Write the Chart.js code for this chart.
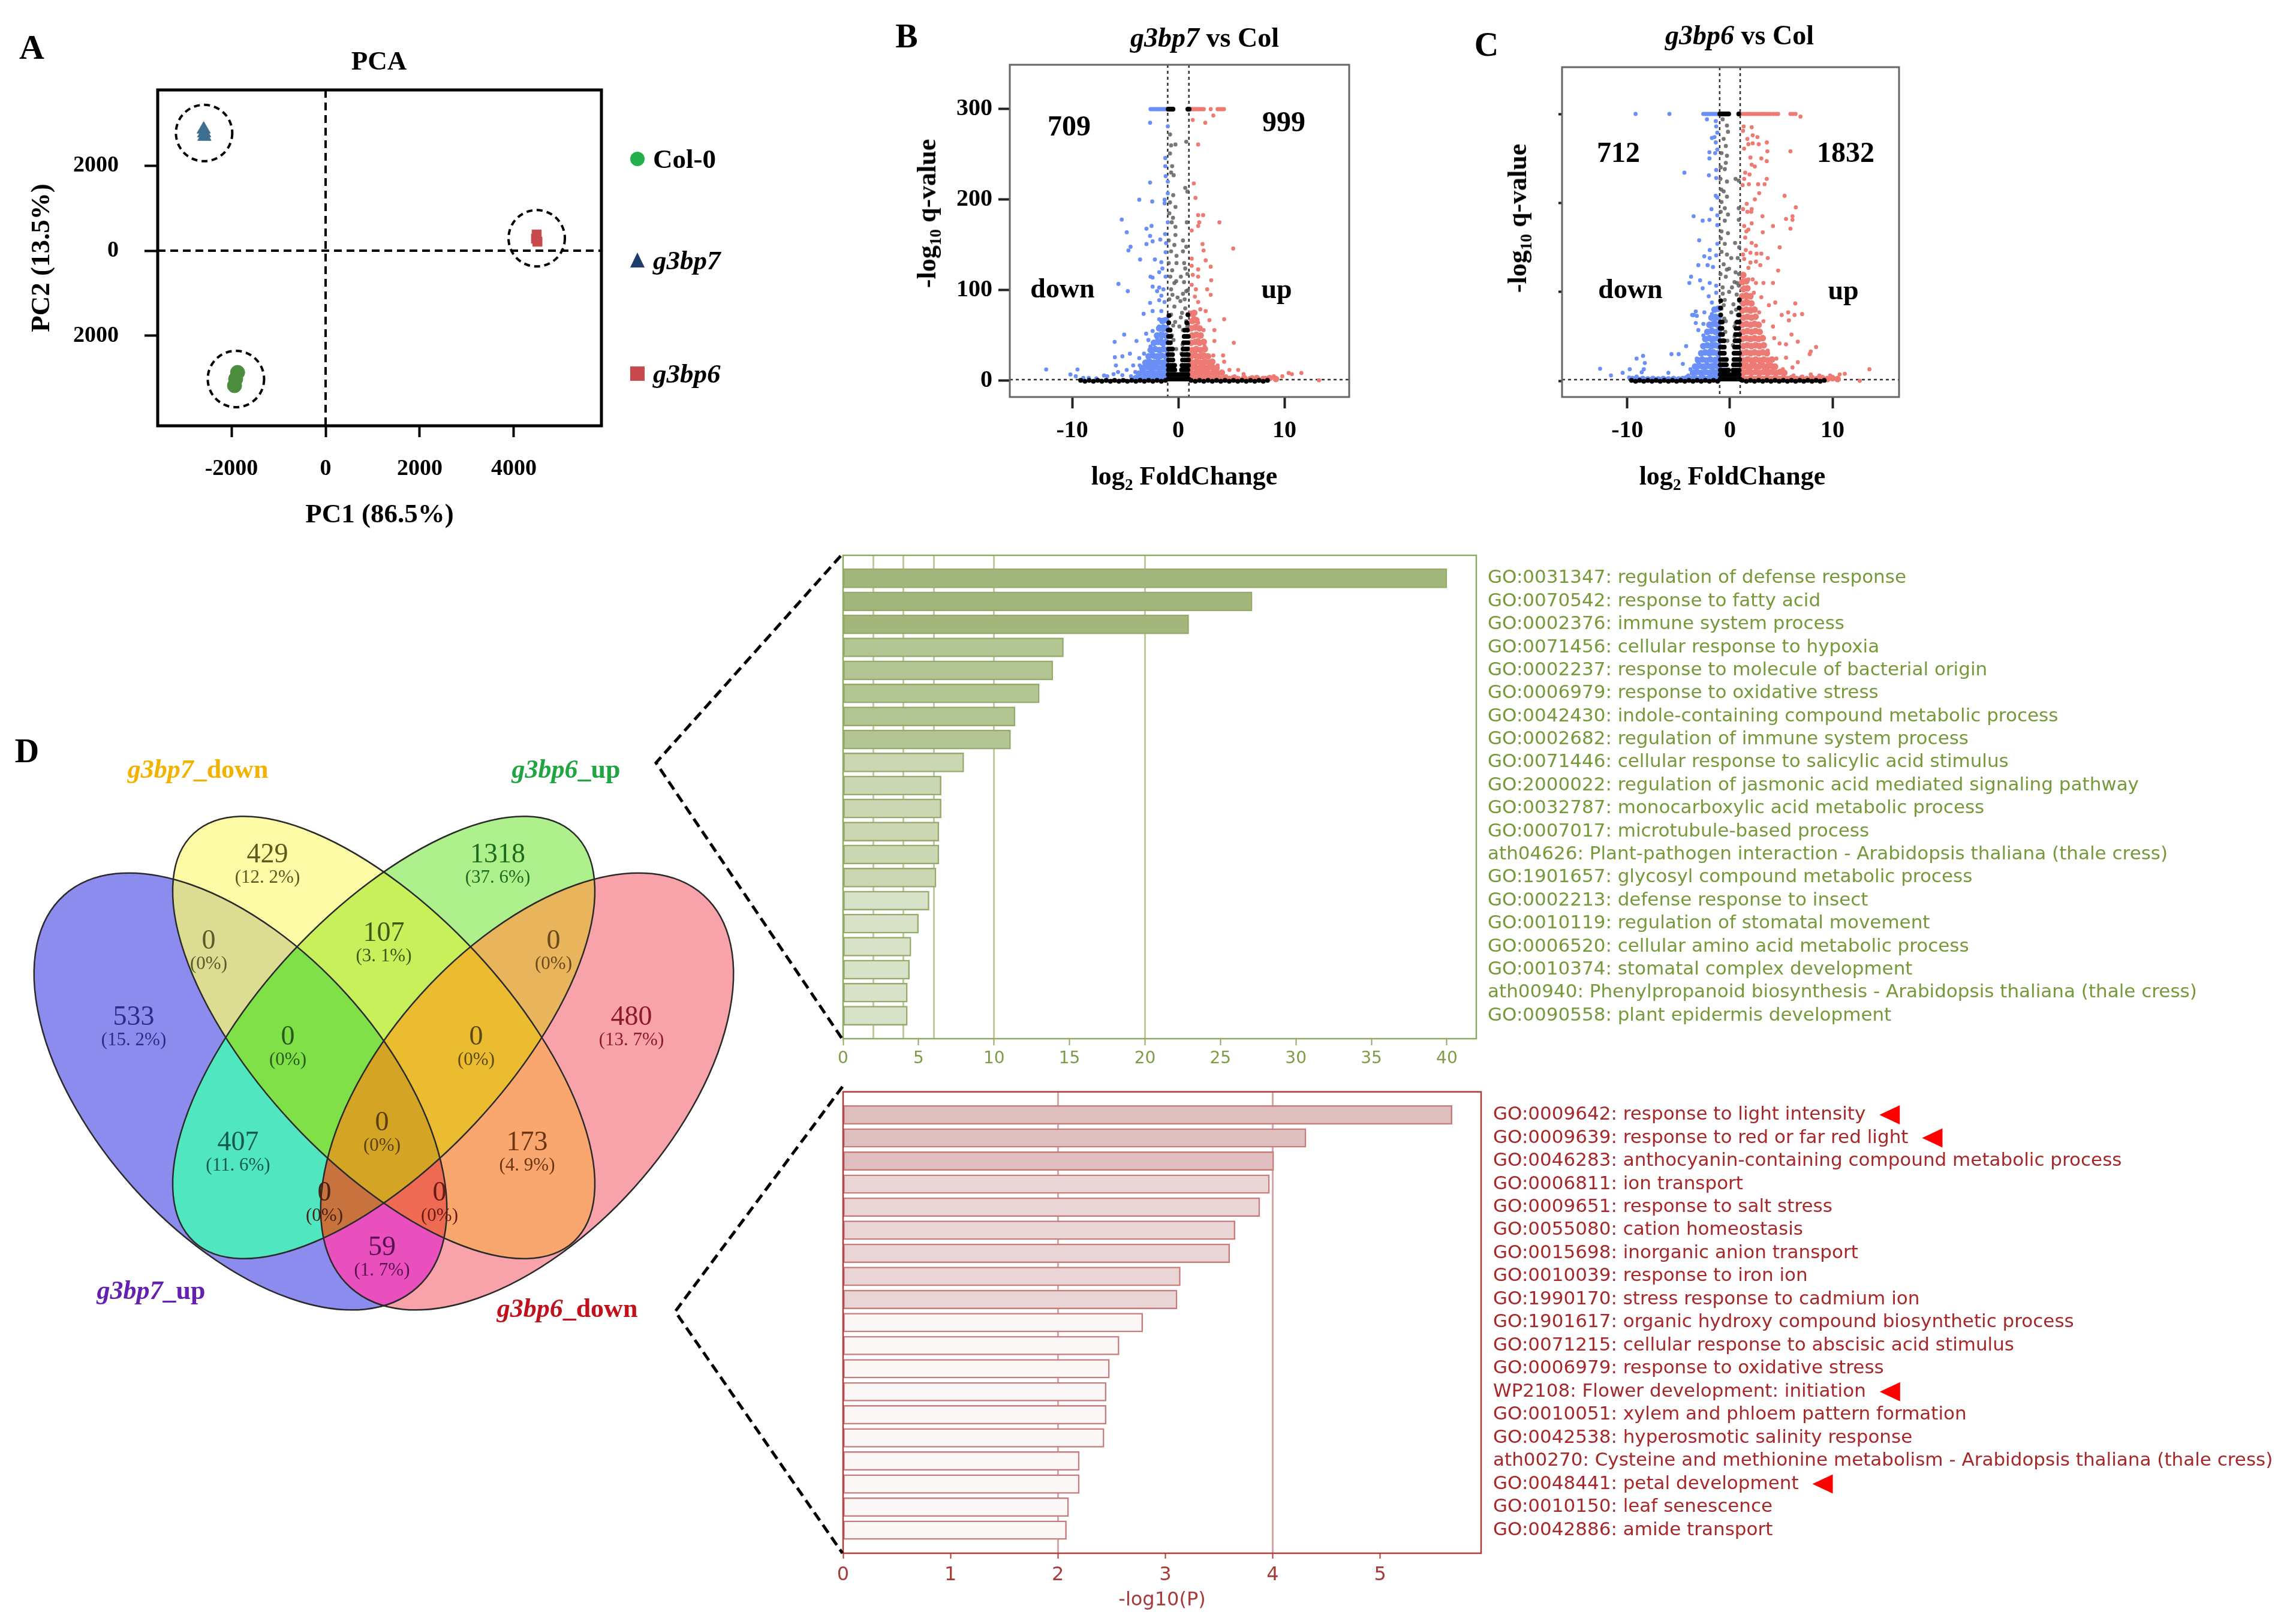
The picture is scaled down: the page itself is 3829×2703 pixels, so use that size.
<!DOCTYPE html>
<html>
<head>
<meta charset="utf-8">
<script src="https://cdn.jsdelivr.net/npm/chart.js@4.4.0/dist/chart.umd.min.js"></script>
<style>
  html, body { margin: 0; padding: 0; background: #fff; }
  #page { position: relative; width: 3829px; height: 2703px; overflow: hidden; background: #fff; }
  canvas { position: absolute; }
  .lab { position: absolute; white-space: nowrap; transform: translate(-50%, -50%); line-height: 1;
         font-family: "Liberation Serif", "Times New Roman", serif; font-weight: bold; color: #000; }
  .left { transform: translate(0, -50%); }
  .rot { transform: translate(-50%, -50%) rotate(-90deg); }
  .sub { font-size: 0.62em; vertical-align: -0.32em; }
  .mk { position: absolute; }
  svg { position: absolute; left: 0; top: 0; }
</style>
</head>
<body>
<div id="page">
  <!-- panel letters and titles -->
  <div class="lab" style="left:53px;top:79px;font-size:58px">A</div>
  <div class="lab" style="left:1512px;top:60px;font-size:56px">B</div>
  <div class="lab" style="left:2479px;top:74px;font-size:56px">C</div>
  <div class="lab" style="left:45px;top:1252px;font-size:56px">D</div>
  <div class="lab" style="left:632px;top:101px;font-size:45px">PCA</div>

  <!-- PCA legend -->
  <div class="mk" style="left:1051px;top:253px;width:24px;height:24px;border-radius:50%;background:#22b04a"></div>
  <div class="mk" style="left:1051px;top:421px;width:0;height:0;border-left:12px solid transparent;border-right:12px solid transparent;border-bottom:25px solid #1e3d6b"></div>
  <div class="mk" style="left:1051px;top:611px;width:24px;height:24px;background:#c94a4c"></div>
  <div class="lab left" style="left:1089px;top:265px;font-size:45px">Col-0</div>
  <div class="lab left" style="left:1089px;top:434px;font-size:45px"><i>g3bp7</i></div>
  <div class="lab left" style="left:1089px;top:623px;font-size:45px"><i>g3bp6</i></div>

  <!-- volcano titles -->
  <div class="lab" style="left:2009px;top:63px;font-size:46px"><i>g3bp7</i> vs Col</div>
  <div class="lab" style="left:2901px;top:59px;font-size:46px"><i>g3bp6</i> vs Col</div>
  <div class="lab rot" style="left:1549px;top:356px;font-size:44px">-log<span class="sub">10</span> q-value</div>
  <div class="lab rot" style="left:2534px;top:364px;font-size:44px">-log<span class="sub">10</span> q-value</div>
  <div class="lab" style="left:1975px;top:797px;font-size:44px">log<span class="sub">2</span> FoldChange</div>
  <div class="lab" style="left:2889px;top:797px;font-size:44px">log<span class="sub">2</span> FoldChange</div>
  <div class="lab" style="left:1783px;top:210px;font-size:48px">709</div>
  <div class="lab" style="left:2141px;top:203px;font-size:48px">999</div>
  <div class="lab" style="left:1772px;top:481px;font-size:46px">down</div>
  <div class="lab" style="left:2129px;top:482px;font-size:46px">up</div>
  <div class="lab" style="left:2699px;top:254px;font-size:48px">712</div>
  <div class="lab" style="left:3078px;top:254px;font-size:48px">1832</div>
  <div class="lab" style="left:2719px;top:482px;font-size:46px">down</div>
  <div class="lab" style="left:3074px;top:484px;font-size:46px">up</div>

  <!-- venn set names -->
  <div class="lab" style="left:330px;top:1283px;font-size:44px;color:#f2b300"><i>g3bp7</i>_down</div>
  <div class="lab" style="left:944px;top:1283px;font-size:44px;color:#1fa640"><i>g3bp6</i>_up</div>
  <div class="lab" style="left:252px;top:2152px;font-size:44px;color:#6420b0"><i>g3bp7</i>_up</div>
  <div class="lab" style="left:946px;top:2182px;font-size:44px;color:#c0121c"><i>g3bp6</i>_down</div>
</div>

<script>
// ---------------- data ----------------
// PCA (PC1, PC2) per replicate
const pcaGroups = ['Col-0', 'g3bp7', 'g3bp6'];
const col0PC = [[-1870, -2860], [-1911, -3014], [-1935, -3170]];
const g3bp7PC = [[-2590, 2850], [-2580, 2760], [-2575, 2680]];
const g3bp6PC = [[4484, 380], [4470, 282], [4500, 211]];
const pcaXTicks = [-2000, 0, 2000, 4000];
const pcaYTicks = [-2000, 0, 2000];
const pcaYTickLabels = ['2000', '0', '2000'];

// volcano g3bp7 vs Col  [log2FC, -log10 q]
const volcB_down = [[-2.62,300],[-2.5,300],[-2.38,300],[-2.26,300],[-2.14,300],[-2.02,300],[-1.9,300],[-1.78,300],[-1.66,300],[-1.54,300],[-1.42,300],[-1.3,300],[-1.18,300],[-1.08,300],
  [-2.66,285],[-0.99,281],[-1.23,246],[-1.23,237],[-1.19,226],[-2.66,219],[-0.99,220],[-0.99,207],[-3.68,200],[-2.46,198],[-1.29,200],[-1.29,196],[-5.33,178],[-4.86,164],[-3.0,168],[-2.52,171],[-0.99,175],[-1.25,162],[-4.5,148],[-4.7,144],[-2.66,160],[-2.42,154],[-1.7,156],[-3.0,151],[-1.15,152],[-3.6,134],[-1.2,142],[-2.21,134],[-1.6,131],[-1.5,124],[-1.8,120],[-2.62,115],[-2.42,114],[-1.2,115],[-5.64,107],[-4.76,99],[-2.42,104],[-1.8,103],[-1.4,101],[-2.0,99],[-1.6,94],[-2.66,86],[-1.8,89],[-1.3,87],[-3.27,74],[-2.42,77],[-1.6,77],[-1.8,68],[-1.3,68],[-5.1,51],[-6.0,43],[-3.94,44],[-3.03,52],[-2.42,55],[-1.8,60],[-2.82,45],[-2.0,47],[-1.6,47],[-5.27,27],[-4.56,30],[-5.98,26],[-5.88,17],[-3.68,25],[-3.23,30],[-2.82,24],[-2.42,33],[-1.8,35],[-1.4,40],[-1.19,28],[-4.25,17],[-3.64,17],[-2.62,17],[-2.0,19],[-1.4,17],[-1.19,12],[-4.86,12],[-3.23,11],[-1.6,8],[-12.45,12.5],[-9.5,12.5],[-10.17,7],[-9.66,5],[-8.95,3.2],[-8.44,3.2],[-7.72,2.7],[-7.0,5.8],[-6.1,7.4],[-5.27,6.2],[-4.46,5],[-3.64,5],[-2.82,5],[-2.0,5],[-1.4,4],[-2.62,38],[-2.21,26],[-1.6,21],[-1.19,19],[-3.0,19],[-1.4,56],[-1.19,49],[-1.7,26],[-2.42,12],[-4.05,9.7],[-5.68,9.7],[-6.7,5]];
const volcB_up = [[1.2,300],[1.32,300],[1.44,300],[1.56,300],[1.68,300],[1.8,300],[1.92,300],[2.04,300],[2.16,300],[2.28,300],[2.4,300],[3.05,300],[3.7,300],[3.85,300],[4.0,300],[4.15,300],[4.3,300],
  [3.3,293],[1.36,288],[2.54,285],[1.87,261],[1.46,218],[1.62,202],[1.87,183],[2.34,183],[1.97,175],[3.87,175],[1.87,171],[1.26,166],[2.28,151],[2.38,144],[5.17,146],[1.26,135],[2.58,133],[1.26,127],[1.87,123],[3.05,126],[1.36,117],[1.87,115],[3.1,111],[1.26,106],[1.66,101],[2.72,101],[3.05,95],[1.56,93],[1.87,87],[2.07,79],[2.58,77],[4.32,68],[2.93,67],[1.46,70],[1.87,64],[2.38,56],[3.4,56],[5.23,42],[3.4,44],[4.22,28],[4.32,21],[3.3,28],[2.48,38],[1.87,45],[1.46,49],[1.66,33],[2.28,26],[2.89,21],[3.7,17],[4.82,12],[5.64,12],[6.15,7.4],[6.97,4],[8.2,3.3],[9.0,5],[9.8,5],[10.4,8.6],[10.7,7.4],[11.6,8.6],[13.25,0.5],[1.46,17],[2.07,12],[2.48,7.4],[3.3,7.4],[4.1,8.6],[4.5,5],[5.3,5],[1.46,7.4],[1.66,61],[2.17,51]];
const volcB_ns = [[-0.78,272],[-0.68,260],[-0.27,261],[-0.78,251],[-0.58,237],[-0.68,230],[-0.44,227],[0.75,264],[0.65,213],[0.85,209],[-0.48,205],[-0.78,197],[-0.27,192],[-0.62,175],[-0.27,170],[-0.27,161],[0.44,155],[-0.37,150],[0.75,148],[-0.68,143],[-0.17,138],[0.44,143],[-0.17,130],[-0.58,122],[0.65,124],[0.24,115],[-0.37,108],[0.54,109],[-0.68,101],[0.75,99],[-0.07,92],[0.44,96],[-0.37,82],[0.65,80],[-0.68,73],[0.24,70],[0.75,66],[-0.48,61],[0.44,56],[-0.85,185],[-0.5,180],[0.8,175],[-0.9,130],[0.85,118],[-0.85,90],[0.2,88],[0.85,60],[-0.3,65],[0.1,60],
  [-0.55,95],[-0.2,110],[0.55,130],[-0.75,115],[0.35,75],[-0.45,45],[0.4,40],[-0.2,35],[0.3,30],[-0.6,50],[0.6,90],[-0.9,155],[0.9,100]];
const volcB_core = [[-0.95,300],[-0.82,300],[-0.7,300],[-0.58,300],[-0.5,300],[0.9,300],[1.02,300],
  [-0.95,2],[-0.75,2],[-0.55,2],[-0.35,2],[-0.15,2],[0.05,2],[0.25,2],[0.45,2],[0.65,2],[0.85,2],[0.98,2],
  [-0.95,7],[-0.75,7],[-0.55,7],[-0.35,7],[-0.15,7],[0.1,7],[0.3,7],[0.5,7],[0.7,7],[0.9,7],
  [-0.93,12],[-0.73,12],[-0.53,12],[-0.33,12],[0.3,12],[0.5,12],[0.7,12],[0.9,12],
  [-0.95,17],[-0.75,17],[-0.55,17],[-0.35,17],[0.35,17],[0.55,17],[0.75,17],[0.95,17],
  [-0.92,23],[-0.72,23],[-0.52,23],[0.4,23],[0.6,23],[0.8,23],[0.95,23],
  [-0.95,29],[-0.75,29],[-0.55,29],[0.4,29],[0.6,29],[0.8,29],[0.93,29],
  [-0.92,35],[-0.72,35],[-0.55,35],[0.45,35],[0.65,35],[0.85,35],
  [-0.95,42],[-0.75,42],[0.5,42],[0.7,42],[0.9,42],
  [-0.92,49],[-0.72,49],[0.55,49],[0.75,49],[0.93,49],
  [-0.95,56],[-0.78,56],[0.6,56],[0.85,56],[-0.9,64],[0.8,64],[-0.88,72],[0.9,73],
  [-9.2,0.5],[-8.8,-0.5],[-8.4,0.5],[-8.0,-0.5],[-7.6,0.5],[-7.2,-0.5],[-6.8,0.5],[-6.4,-0.5],[-6.0,0.5],[-5.6,-0.5],[-5.2,0.5],[-4.8,-0.5],[-4.4,0.5],[-4.0,-0.5],[-3.6,0.5],[-3.2,-0.5],[-2.8,0.5],[-2.4,-0.5],[-2.0,0.5],[-1.6,-0.5],[-1.2,0.5],
  [1.2,0.5],[1.6,-0.5],[2.0,0.5],[2.4,-0.5],[2.8,0.5],[3.2,-0.5],[3.6,0.5],[4.0,-0.5],[4.4,0.5],[4.8,-0.5],[5.2,0.5],[5.6,-0.5],[6.0,0.5],[6.4,-0.5],[6.8,0.5],[7.2,-0.5],[7.6,0.5],[8.0,-0.5],[8.4,0.5]];
const volcB_downDense = [[-4.0,3],[-3.6,2],[-3.2,3],[-2.8,2],[-2.4,3],[-2.0,2],[-1.6,3],[-1.2,2],
  [-3.7,8],[-3.3,9],[-2.9,8],[-2.5,9],[-2.1,8],[-1.7,9],[-1.3,8],
  [-3.4,14],[-3.0,15],[-2.6,14],[-2.2,15],[-1.8,14],[-1.4,15],[-1.1,14],
  [-3.1,20],[-2.7,21],[-2.3,20],[-1.9,21],[-1.5,20],[-1.15,21],
  [-2.8,27],[-2.4,28],[-2.0,27],[-1.6,28],[-1.2,27],
  [-2.6,34],[-2.2,35],[-1.8,34],[-1.4,35],[-1.1,34],
  [-2.3,42],[-1.9,43],[-1.5,42],[-1.15,43],
  [-2.0,50],[-1.6,51],[-1.2,50],[-1.8,58],[-1.4,59],[-1.1,58],[-1.5,66],[-1.15,67]];
const volcB_upDense = [[1.2,3],[1.6,2],[2.0,3],[2.4,2],[2.8,3],[3.2,2],[3.6,3],[4.0,2],[4.4,3],[4.8,2],[5.2,3],[5.6,2],[6.2,3],[6.8,2],[7.4,3],[8.0,2],[8.6,3],[9.2,2],
  [1.3,8],[1.7,9],[2.1,8],[2.5,9],[2.9,8],[3.3,9],[3.7,8],[4.1,9],
  [1.2,14],[1.6,15],[2.0,14],[2.4,15],[2.8,14],[3.2,15],[3.6,14],
  [1.3,20],[1.7,21],[2.1,20],[2.5,21],[2.9,20],[3.2,21],
  [1.2,27],[1.6,28],[2.0,27],[2.4,28],[2.8,27],
  [1.3,34],[1.7,35],[2.1,34],[2.5,35],
  [1.2,42],[1.6,43],[2.0,42],[2.4,43],
  [1.3,50],[1.7,51],[2.1,50],[1.2,58],[1.6,59],[2.0,58],[1.3,66],[1.7,67],[1.2,74],[1.5,75]];

// volcano g3bp6 vs Col
const volcC_down = [[-9.2,300],[-5.9,300],[-2.6,300],[-2.45,300],[-2.3,300],[-2.15,300],[-2.0,300],[-1.85,300],[-1.7,300],[-1.55,300],[-1.4,300],[-1.25,300],[-1.12,300],
  [-2.24,294],[-1.38,292],[-1.34,286],[-1.23,279],[-1.76,273],[-1.5,274],[-1.38,268],[-1.23,260],[-2.0,257],[-2.0,250],[-1.44,256],[-4.44,234],[-2.05,231],[-1.34,237],[-1.34,228],[-1.38,208],[-1.23,206],[-1.8,193],[-3.54,185],[-2.66,180],[-2.0,181],[-1.23,186],[-1.23,175],[-3.0,158],[-1.23,154],[-1.97,147],[-2.5,140],[-1.97,138],[-1.34,141],[-3.08,130],[-2.18,130],[-1.65,128],[-3.79,117],[-3.96,110],[-2.91,113],[-1.97,110],[-1.34,107],[-2.66,104],[-1.34,99],[-2.07,95],[-1.76,88],[-3.33,78],[-3.54,74],[-3.23,73],[-3.68,74],[-2.49,77],[-1.76,75],[-3.33,65],[-2.59,64],[-1.44,67],[-3.08,57],[-2.59,51],[-1.76,58],[-4.27,39],[-2.49,39],[-1.76,44],[-5.7,30],[-5.0,30],[-4.59,19],[-3.23,25],[-2.81,30],[-1.97,34],[-1.34,39],[-8.47,28],[-9.1,25],[-8.3,20],[-8.4,13],[-8.6,9.6],[-9.77,13],[-10.46,9],[-11.6,6],[-12.66,13.6],[-6.0,9],[-9.83,3.7],[-9.1,4.8],[-8.05,2.5],[-7.2,1.8],[-4.9,2.5],[-4.06,6],[-3.85,13],[-3.23,10.7],[-2.6,15.4],[-2.18,8.4],[-1.76,17.8],[-1.34,10.7],[-1.44,24.8],[-2.8,6],[-1.55,4.8]];
const volcC_up = [[1.2,300],[1.4,300],[1.6,300],[1.8,300],[2.0,300],[2.2,300],[2.4,300],[2.6,300],[2.8,300],[3.0,300],[3.2,300],[3.4,300],[3.6,300],[3.8,300],[4.0,300],[4.25,300],[4.5,300],[4.7,300],[5.9,300],[6.15,300],[6.4,300],
  [6.88,297],[1.34,286],[1.28,281],[2.12,285],[2.22,276],[2.68,274],[1.7,272],[3.6,268],[1.8,266],[2.22,267],[2.81,266],[1.38,261],[3.65,258],[5.9,258],[2.0,251],[3.06,250],[3.59,247],[2.12,243],[2.43,241],[1.49,234],[1.91,232],[1.39,227],[3.59,227],[1.24,220],[1.85,221],[2.75,221],[3.38,221],[5.33,208],[2.85,211],[2.43,204],[1.64,199],[2.12,193],[6.42,195],[1.28,193],[1.7,190],[2.08,190],[3.17,185],[5.47,182],[6.1,185],[6.1,181],[4.2,174],[5.9,171],[1.39,174],[1.6,168],[2.12,177],[1.8,170],[3.2,167],[1.49,161],[2.12,155],[2.54,152],[4.85,150],[1.55,147],[2.0,144],[2.6,143],[3.06,143],[3.69,138],[1.28,142],[1.39,137],[2.0,133],[2.54,134],[2.96,130],[4.7,124],[1.8,127],[1.28,117],[1.8,114],[2.22,114],[2.54,110],[3.27,110],[4.2,110],[1.39,105],[2.33,99],[3.06,94],[4.42,88],[6.37,87],[3.8,85],[5.68,77],[5.05,74],[6.3,74],[7.04,75],[1.6,91],[2.0,81],[2.85,77],[3.27,67],[4.2,61],[5.75,68],[6.0,52],[6.62,44],[4.84,42],[5.47,41],[8.4,38],[7.88,33],[7.78,30],[4.32,48],[3.69,34],[5.47,26],[6.62,21],[6.1,15],[4.53,25],[5.16,13],[7.88,7.2],[8.72,6],[9.77,6],[10.7,7.2],[11.2,7.9],[13.6,13],[12.66,0],[6.2,6],[7.05,4.8],[1.39,15],[2.0,10.7],[2.85,8.4],[3.69,13],[4.53,7.2],[1.8,25],[2.43,32],[3.06,20]];
const volcC_ns = [[-0.71,294],[-0.29,287],[-0.19,280],[-0.61,272],[-0.4,264],[-0.82,256],[-0.29,253],[-0.4,245],[-0.5,238],[-0.92,227],[-0.29,224],[0.55,227],[0.86,225],[-0.61,213],[-0.29,207],[-0.82,201],[-0.5,194],[-0.19,187],[0.86,194],[0.86,181],[-0.5,180],[-0.82,168],[-0.19,166],[0.5,155],[-0.5,154],[-0.82,145],[-0.29,142],[0.13,138],[0.76,138],[-0.61,131],[-0.08,126],[0.55,122],[-0.4,117],[0.45,111],[0.86,107],[-0.71,105],[-0.08,100],[0.66,97],[-0.5,91],[0.34,86],[-0.82,81],[0.13,77],[0.76,74],[-0.4,67],[0.45,61],[-0.9,240],[-0.85,215],[-0.9,190],[-0.88,160],[-0.92,120],[0.9,150],[0.88,120],[0.9,90],[-0.6,85],[0.6,80],
  [-0.45,55],[0.45,50],[-0.25,45],[0.3,40],[-0.7,98],[0.7,110],[-0.3,125],[0.2,105],[-0.55,70],[0.55,65]];
const volcC_core = [[-0.98,300],[-0.85,300],[-0.72,300],[-0.59,300],[-0.46,300],[-0.33,300],[-0.2,300],[-0.12,300],[0.86,300],
  [-0.95,2],[-0.75,2],[-0.55,2],[-0.35,2],[-0.15,2],[0.05,2],[0.25,2],[0.45,2],[0.65,2],[0.85,2],[0.98,2],
  [-0.95,7],[-0.75,7],[-0.55,7],[-0.35,7],[-0.15,7],[0.1,7],[0.3,7],[0.5,7],[0.7,7],[0.9,7],
  [-0.93,12],[-0.73,12],[-0.53,12],[-0.33,12],[-0.15,12],[0.3,12],[0.5,12],[0.7,12],[0.9,12],
  [-0.95,18],[-0.75,18],[-0.55,18],[-0.35,18],[0.35,18],[0.55,18],[0.75,18],[0.95,18],
  [-0.92,24],[-0.72,24],[-0.52,24],[-0.35,24],[0.4,24],[0.6,24],[0.8,24],[0.95,24],
  [-0.95,31],[-0.75,31],[-0.55,31],[0.4,31],[0.6,31],[0.8,31],[0.93,31],
  [-0.92,38],[-0.72,38],[-0.55,38],[0.45,38],[0.65,38],[0.85,38],
  [-0.95,45],[-0.75,45],[-0.58,45],[0.5,45],[0.7,45],[0.9,45],
  [-0.92,52],[-0.72,52],[0.55,52],[0.75,52],[0.93,52],
  [-0.95,59],[-0.78,59],[0.6,59],[0.85,59],[-0.92,66],[-0.75,66],[0.7,66],[0.9,66],
  [-0.9,74],[0.88,74],[-0.92,82],[0.9,82],[-0.9,90],[0.92,91],
  [-9.6,0.5],[-9.2,-0.5],[-8.8,0.5],[-8.4,-0.5],[-8.0,0.5],[-7.6,-0.5],[-7.2,0.5],[-6.8,-0.5],[-6.4,0.5],[-6.0,-0.5],[-5.6,0.5],[-5.2,-0.5],[-4.8,0.5],[-4.4,-0.5],[-4.0,0.5],[-3.6,-0.5],[-3.2,0.5],[-2.8,-0.5],[-2.4,0.5],[-2.0,-0.5],[-1.6,0.5],[-1.2,-0.5],
  [1.2,0.5],[1.6,-0.5],[2.0,0.5],[2.4,-0.5],[2.8,0.5],[3.2,-0.5],[3.6,0.5],[4.0,-0.5],[4.4,0.5],[4.8,-0.5],[5.2,0.5],[5.6,-0.5],[6.0,0.5],[6.4,-0.5],[6.8,0.5],[7.2,-0.5],[7.6,0.5],[8.0,-0.5],[8.4,0.5],[8.8,-0.5],[9.2,0.5]];
const volcC_downDense = [[-4.2,3],[-3.8,2],[-3.4,3],[-3.0,2],[-2.6,3],[-2.2,2],[-1.8,3],[-1.4,2],[-1.1,3],
  [-3.6,9],[-3.2,10],[-2.8,9],[-2.4,10],[-2.0,9],[-1.6,10],[-1.2,9],
  [-3.4,16],[-3.0,17],[-2.6,16],[-2.2,17],[-1.8,16],[-1.4,17],[-1.1,16],
  [-3.1,23],[-2.7,24],[-2.3,23],[-1.9,24],[-1.5,23],[-1.15,24],
  [-2.8,31],[-2.4,32],[-2.0,31],[-1.6,32],[-1.2,31],
  [-2.6,39],[-2.2,40],[-1.8,39],[-1.4,40],[-1.1,39],
  [-2.4,47],[-2.0,48],[-1.6,47],[-1.2,48],
  [-2.2,55],[-1.8,56],[-1.4,55],[-1.1,56],
  [-2.0,63],[-1.6,64],[-1.2,63],[-1.8,71],[-1.4,72],[-1.1,71],[-1.5,80],[-1.15,81],
  [-9.5,2],[-9.0,1.5],[-8.5,2],[-8.0,1.5],[-7.5,2],[-7.0,1.5],[-6.5,2],[-6.0,1.5],[-5.5,2],[-5.0,1.5],[-4.6,2]];
const volcC_upDense = [[1.2,3],[1.6,2],[2.0,3],[2.4,2],[2.8,3],[3.2,2],[3.6,3],[4.0,2],[4.4,3],[4.8,2],[5.2,3],[5.6,2],[6.0,3],[6.5,2],[7.0,3],[7.5,2],[8.0,3],[8.5,2],[9.0,3],[9.5,2],[10.0,3],[10.5,2],
  [1.3,9],[1.7,10],[2.1,9],[2.5,10],[2.9,9],[3.3,10],[3.7,9],[4.1,10],[4.5,9],[4.9,10],[5.3,9],
  [1.2,16],[1.6,17],[2.0,16],[2.4,17],[2.8,16],[3.2,17],[3.6,16],[4.0,17],[4.4,16],
  [1.3,23],[1.7,24],[2.1,23],[2.5,24],[2.9,23],[3.3,24],[3.7,23],[4.1,24],
  [1.2,31],[1.6,32],[2.0,31],[2.4,32],[2.8,31],[3.2,32],[3.6,31],
  [1.3,39],[1.7,40],[2.1,39],[2.5,40],[2.9,39],[3.3,40],
  [1.2,47],[1.6,48],[2.0,47],[2.4,48],[2.8,47],[3.2,48],
  [1.3,55],[1.7,56],[2.1,55],[2.5,56],[2.9,55],
  [1.2,63],[1.6,64],[2.0,63],[2.4,64],[2.8,63],
  [1.3,71],[1.7,72],[2.1,71],[2.5,72],[1.2,79],[1.6,80],[2.0,79],[2.4,80],
  [1.3,87],[1.7,88],[2.1,87],[1.2,95],[1.6,96],[2.0,95],[1.3,103],[1.7,104],[1.2,111],[1.6,112],[1.3,119]];
const volcXTicks = [-10, 0, 10];
const volcYTicks = [0, 100, 200, 300];
const foldCut = [-1, 1];
const qCut = 1.3;

// GO enrichment, up group (green) and down group (red): -log10(P)
const greenTerms = [
  'GO:0031347: regulation of defense response',
  'GO:0070542: response to fatty acid',
  'GO:0002376: immune system process',
  'GO:0071456: cellular response to hypoxia',
  'GO:0002237: response to molecule of bacterial origin',
  'GO:0006979: response to oxidative stress',
  'GO:0042430: indole-containing compound metabolic process',
  'GO:0002682: regulation of immune system process',
  'GO:0071446: cellular response to salicylic acid stimulus',
  'GO:2000022: regulation of jasmonic acid mediated signaling pathway',
  'GO:0032787: monocarboxylic acid metabolic process',
  'GO:0007017: microtubule-based process',
  'ath04626: Plant-pathogen interaction - Arabidopsis thaliana (thale cress)',
  'GO:1901657: glycosyl compound metabolic process',
  'GO:0002213: defense response to insect',
  'GO:0010119: regulation of stomatal movement',
  'GO:0006520: cellular amino acid metabolic process',
  'GO:0010374: stomatal complex development',
  'ath00940: Phenylpropanoid biosynthesis - Arabidopsis thaliana (thale cress)',
  'GO:0090558: plant epidermis development'
];
const greenValues = [40.0, 27.1, 22.9, 14.6, 13.9, 13.0, 11.4, 11.1, 8.0, 6.5, 6.5, 6.35, 6.35, 6.16, 5.7, 5.0, 4.5, 4.4, 4.26, 4.26];
const greenTier = [0, 0, 0, 1, 1, 1, 1, 1, 2, 2, 2, 2, 2, 2, 3, 3, 3, 3, 3, 3];
const greenTicks = [0, 5, 10, 15, 20, 25, 30, 35, 40];
const greenGrid = [2, 4, 6, 10, 20];

const redTerms = [
  'GO:0009642: response to light intensity',
  'GO:0009639: response to red or far red light',
  'GO:0046283: anthocyanin-containing compound metabolic process',
  'GO:0006811: ion transport',
  'GO:0009651: response to salt stress',
  'GO:0055080: cation homeostasis',
  'GO:0015698: inorganic anion transport',
  'GO:0010039: response to iron ion',
  'GO:1990170: stress response to cadmium ion',
  'GO:1901617: organic hydroxy compound biosynthetic process',
  'GO:0071215: cellular response to abscisic acid stimulus',
  'GO:0006979: response to oxidative stress',
  'WP2108: Flower development: initiation',
  'GO:0010051: xylem and phloem pattern formation',
  'GO:0042538: hyperosmotic salinity response',
  'ath00270: Cysteine and methionine metabolism - Arabidopsis thaliana (thale cress)',
  'GO:0048441: petal development',
  'GO:0010150: leaf senescence',
  'GO:0042886: amide transport'
];
const redValues = [5.67, 4.31, 4.01, 3.97, 3.88, 3.65, 3.60, 3.14, 3.11, 2.79, 2.57, 2.48, 2.45, 2.45, 2.43, 2.20, 2.20, 2.10, 2.08];
const redTier = [0, 0, 0, 1, 1, 1, 1, 1, 1, 2, 2, 2, 2, 2, 2, 2, 2, 2, 2];
const redMarked = [0, 1, 12, 16];
const redTicks = [0, 1, 2, 3, 4, 5];
const redGrid = [2, 4];

// Venn: region membership (B = g3bp7_up, Y = g3bp7_down, G = g3bp6_up, P = g3bp6_down)
const vennKeys = ['B', 'Y', 'G', 'P'];
const vennRegions = ['B', 'Y', 'G', 'P', 'BY', 'YG', 'GP', 'BYG', 'YGP', 'BYGP', 'BG', 'YP', 'BGP', 'BYP', 'BP'];
const vennCounts = [533, 429, 1318, 480, 0, 107, 0, 0, 0, 0, 407, 173, 0, 0, 59];

// ---------------- layout / style ----------------
const SERIF = '"Liberation Serif", "Times New Roman", serif';
const SANS = '"DejaVu Sans", "Noto Sans", sans-serif';
Chart.defaults.font.family = SERIF;
Chart.defaults.animation = false;
Chart.defaults.plugins.legend.display = false;
Chart.defaults.plugins.tooltip.enabled = false;

const page = document.getElementById('page');
function makeCanvas(left, top, w, h) {
  const c = document.createElement('canvas');
  c.width = w; c.height = h;
  c.style.left = left + 'px'; c.style.top = top + 'px';
  c.style.width = w + 'px'; c.style.height = h + 'px';
  page.insertBefore(c, page.firstChild);
  return c;
}
const toXY = arr => arr.map(p => ({ x: p[0], y: p[1] }));
const fixedTicks = vals => axis => { axis.ticks = vals.map(v => ({ value: v })); };

// ---------- A: PCA ----------
const pcaDecor = {
  id: 'pcaDecor',
  beforeDatasetsDraw(chart) {
    const { ctx, chartArea: a, scales: { x, y } } = chart;
    ctx.save();
    ctx.strokeStyle = '#000';
    ctx.lineWidth = 4;
    ctx.setLineDash([13, 8]);
    const x0 = x.getPixelForValue(0), y0 = y.getPixelForValue(0);
    ctx.beginPath();
    ctx.moveTo(x0, a.top); ctx.lineTo(x0, a.bottom);
    ctx.moveTo(a.left, y0); ctx.lineTo(a.right, y0);
    ctx.stroke();
    ctx.setLineDash([10, 7]);
    chart.data.datasets.forEach((ds, i) => {
      const pts = chart.getDatasetMeta(i).data;
      const cx = pts.reduce((s, p) => s + p.x, 0) / pts.length;
      const cy = pts.reduce((s, p) => s + p.y, 0) / pts.length;
      ctx.beginPath();
      ctx.arc(cx, cy, 47, 0, Math.PI * 2);
      ctx.stroke();
    });
    ctx.restore();
  },
  afterDraw(chart) {
    const { ctx, chartArea: a } = chart;
    ctx.save();
    ctx.strokeStyle = '#000';
    ctx.lineWidth = 5;
    ctx.strokeRect(a.left, a.top, a.right - a.left, a.bottom - a.top);
    ctx.restore();
  }
};

new Chart(makeCanvas(0, 0, 1300, 900), {
  type: 'scatter',
  data: {
    datasets: [
      { label: pcaGroups[0], data: toXY(col0PC), pointStyle: 'circle', pointRadius: 12, backgroundColor: '#4d8d40', borderColor: '#4d8d40' },
      { label: pcaGroups[1], data: toXY(g3bp7PC), pointStyle: 'triangle', pointRadius: 13, backgroundColor: '#3f6f90', borderColor: '#3f6f90' },
      { label: pcaGroups[2], data: toXY(g3bp6PC), pointStyle: 'rect', pointRadius: 11, backgroundColor: '#c64a4c', borderColor: '#c64a4c' }
    ]
  },
  options: {
    responsive: false, devicePixelRatio: 1,
    layout: { padding: { left: 0, top: 150, right: 297, bottom: 0 } },
    scales: {
      x: {
        type: 'linear', min: -3567, max: 5860,
        afterBuildTicks: fixedTicks(pcaXTicks),
        afterFit: s => { s.height = 190; },
        ticks: { font: { size: 38, weight: 'bold' }, color: '#000', padding: 30, maxRotation: 0, autoSkip: false,
                 callback: v => String(v) },
        grid: { drawOnChartArea: false, drawTicks: true, tickLength: 19, tickWidth: 4, tickColor: '#000' },
        border: { display: false },
        title: { display: true, text: 'PC1 (86.5%)', color: '#000', font: { size: 45, weight: 'bold' }, padding: { top: 0, bottom: 14 } }
      },
      y: {
        type: 'linear', min: -4113, max: 3775,
        afterBuildTicks: fixedTicks(pcaYTicks),
        afterFit: s => { s.width = 263; },
        ticks: { font: { size: 38, weight: 'bold' }, color: '#000', padding: 43, autoSkip: false,
                 callback: v => pcaYTickLabels[pcaYTicks.indexOf(v)] },
        grid: { drawOnChartArea: false, drawTicks: true, tickLength: 22, tickWidth: 4, tickColor: '#000' },
        border: { display: false },
        title: { display: true, text: 'PC2 (13.5%)', color: '#000', font: { size: 45, weight: 'bold' }, padding: { top: 43, bottom: 0 } }
      }
    }
  },
  plugins: [pcaDecor]
});

// ---------- B, C: volcano ----------
function volcanoDecor(id) {
  return {
    id,
    beforeDatasetsDraw(chart) {
      const { ctx, chartArea: a, scales: { x, y } } = chart;
      ctx.save();
      ctx.strokeStyle = '#333';
      ctx.lineWidth = 2.5;
      ctx.setLineDash([5, 5]);
      ctx.beginPath();
      foldCut.forEach(v => {
        const px = x.getPixelForValue(v);
        ctx.moveTo(px, a.top); ctx.lineTo(px, a.bottom);
      });
      const py = y.getPixelForValue(qCut);
      ctx.moveTo(a.left, py); ctx.lineTo(a.right, py);
      ctx.stroke();
      ctx.restore();
    },
    afterDraw(chart) {
      const { ctx, chartArea: a } = chart;
      ctx.save();
      ctx.strokeStyle = '#666';
      ctx.lineWidth = 3;
      ctx.strokeRect(a.left, a.top, a.right - a.left, a.bottom - a.top);
      ctx.restore();
    }
  };
}

function volcanoChart(canvas, sets, box, showYLabels) {
  const blue = '#6a8ff6', red = '#ee7a74';
  new Chart(canvas, {
    type: 'scatter',
    data: {
      datasets: [
        { data: toXY(sets.core), pointRadius: 4, backgroundColor: '#000', borderWidth: 0, order: 0 },
        { data: toXY(sets.ns), pointRadius: 3.4, backgroundColor: 'rgba(95,95,95,0.85)', borderWidth: 0, order: 1 },
        { data: toXY(sets.down), pointRadius: 3.4, backgroundColor: blue, borderWidth: 0, order: 2 },
        { data: toXY(sets.up), pointRadius: 3.4, backgroundColor: red, borderWidth: 0, order: 2 },
        { data: toXY(sets.downDense), pointRadius: 5.5, backgroundColor: blue, borderWidth: 0, order: 3 },
        { data: toXY(sets.upDense), pointRadius: 5.5, backgroundColor: red, borderWidth: 0, order: 3 }
      ]
    },
    options: {
      responsive: false, devicePixelRatio: 1,
      layout: { padding: { left: 0, top: box.top, right: box.right, bottom: 0 } },
      scales: {
        x: {
          type: 'linear', min: box.xmin, max: box.xmax,
          afterBuildTicks: fixedTicks(volcXTicks),
          afterFit: s => { s.height = box.xh; },
          ticks: { font: { size: 40, weight: 'bold' }, color: '#000', padding: 14, maxRotation: 0, autoSkip: false },
          grid: { drawOnChartArea: false, drawTicks: true, tickLength: 19, tickWidth: 4, tickColor: '#222' },
          border: { display: false }
        },
        y: {
          type: 'linear', min: box.ymin, max: box.ymax,
          afterBuildTicks: fixedTicks(volcYTicks),
          afterFit: s => { s.width = box.yw; },
          ticks: { font: { size: 40, weight: 'bold' }, color: '#000', padding: 10, autoSkip: false,
                   callback: v => showYLabels ? String(v) : '' },
          grid: { drawOnChartArea: false, drawTicks: true, tickLength: box.tl, tickWidth: 4, tickColor: '#222' },
          border: { display: false }
        }
      }
    },
    plugins: [volcanoDecor('volc' + box.top)]
  });
}

volcanoChart(makeCanvas(1460, 0, 820, 860),
  { core: volcB_core, ns: volcB_ns, down: volcB_down, up: volcB_up, downDense: volcB_downDense, upDense: volcB_upDense },
  { top: 108, right: 30, xh: 198, yw: 224, tl: 19, xmin: -15.88, xmax: 16.1, ymin: -17.9, ymax: 349 }, true);

volcanoChart(makeCanvas(2430, 0, 780, 860),
  { core: volcC_core, ns: volcC_ns, down: volcC_down, up: volcC_up, downDense: volcC_downDense, upDense: volcC_upDense },
  { top: 112, right: 43, xh: 198, yw: 175, tl: 6, xmin: -16.37, xmax: 16.49, ymin: -18.2, ymax: 352.6 }, false);

// ---------- GO bar charts ----------
function barDecor(id, boxColor, marked, labels, labelFont, labelPad) {
  return {
    id,
    afterDraw(chart) {
      const { ctx, chartArea: a, scales: { y } } = chart;
      ctx.save();
      ctx.strokeStyle = boxColor;
      ctx.lineWidth = 2.5;
      ctx.strokeRect(a.left, a.top, a.right - a.left, a.bottom - a.top);
      if (marked) {
        ctx.font = labelFont;
        ctx.fillStyle = '#ff0000';
        marked.forEach(i => {
          const w = ctx.measureText(labels[i]).width;
          const tip = a.right + labelPad + w + 31;
          const cy = y.getPixelForValue(i);
          ctx.beginPath();
          ctx.moveTo(tip, cy);
          ctx.lineTo(tip + 34, cy - 16);
          ctx.lineTo(tip + 34, cy + 16);
          ctx.closePath();
          ctx.fill();
        });
      }
      ctx.restore();
    }
  };
}

function barChart(canvas, cfg) {
  new Chart(canvas, {
    type: 'bar',
    data: {
      datasets: [{
        data: cfg.values.map((v, i) => ({ x: v, y: i })),
        backgroundColor: cfg.tier.map(t => cfg.fills[t]),
        borderColor: cfg.border,
        borderWidth: 2.5,
        borderSkipped: false,
        barThickness: cfg.thick
      }]
    },
    options: {
      indexAxis: 'y',
      responsive: false, devicePixelRatio: 1,
      layout: { padding: { left: cfg.padLeft, top: cfg.padTop, right: 0, bottom: 0 } },
      scales: {
        x: {
          type: 'linear', position: 'bottom', min: 0, max: cfg.xmax,
          afterBuildTicks: fixedTicks(cfg.ticks),
          afterFit: s => { s.height = cfg.xh; },
          ticks: { font: { family: SANS, size: cfg.tickSize }, color: cfg.tickColor, padding: cfg.tickPad, maxRotation: 0, autoSkip: false },
          grid: { drawOnChartArea: false, drawTicks: true, tickLength: cfg.tickLen, tickWidth: 2, tickColor: cfg.boxColor },
          border: { display: false },
          title: cfg.title ? { display: true, text: cfg.title, color: cfg.tickColor, font: { family: SANS, size: 32 }, padding: { top: 0, bottom: 15 } } : { display: false }
        },
        xg: {
          type: 'linear', position: 'bottom', min: 0, max: cfg.xmax,
          afterBuildTicks: fixedTicks(cfg.grid),
          afterFit: s => { s.height = 0; },
          ticks: { display: false },
          grid: { drawOnChartArea: true, drawTicks: false, color: cfg.gridColor, lineWidth: 3 },
          border: { display: false }
        },
        y: {
          type: 'linear', position: 'right', min: -1, max: cfg.labels.length, reverse: true, offset: false,
          afterBuildTicks: fixedTicks(cfg.labels.map((t, i) => i)),
          afterFit: s => { s.width = cfg.yw; },
          ticks: { font: { family: SANS, size: 31 }, color: cfg.labelColor, padding: cfg.labelPad, autoSkip: false,
                   crossAlign: 'near', callback: v => cfg.labels[v] },
          grid: { display: false, offset: false },
          border: { display: false }
        }
      }
    },
    plugins: [barDecor('bar' + cfg.padTop, cfg.boxColor, cfg.marked, cfg.labels, '31px ' + SANS, cfg.labelPad)]
  });
}

barChart(makeCanvas(1380, 880, 2449, 920), {
  values: greenValues, tier: greenTier, labels: greenTerms,
  fills: ['#a3b67b', '#b4c594', '#cbd7b2', '#d8e2c8'], border: '#94ab69',
  thick: 32, xmax: 41.95, ticks: greenTicks, grid: greenGrid, gridColor: '#bccc9f',
  padLeft: 26, padTop: 46, xh: 68, yw: 1367, tickSize: 28, tickPad: 6, tickLen: 11,
  tickColor: '#7d9c47', boxColor: '#8fa862', labelColor: '#76993a', labelPad: 11
});

barChart(makeCanvas(1380, 1790, 2449, 913), {
  values: redValues, tier: redTier, labels: redTerms, marked: redMarked,
  fills: ['#dfbfbf', '#e9d5d5', '#faf7f6'], border: '#c87c7c',
  thick: 31.5, xmax: 5.94, ticks: redTicks, grid: redGrid, gridColor: '#d9a6a6',
  padLeft: 26, padTop: 22, xh: 113, yw: 1359, tickSize: 32, tickPad: 8, tickLen: 9,
  tickColor: '#a83a3a', boxColor: '#b03a3a', labelColor: '#a6282a', labelPad: 12,
  title: '-log10(P)'
});

// ---------- D: Venn ----------
const vennShapes = [
  { cx: 401, cy: 630, a: 440, b: 240, rot: 48 },   // g3bp7_up
  { cx: 640, cy: 540, a: 465, b: 209, rot: 47 },   // g3bp7_down
  { cx: 640, cy: 540, a: 465, b: 209, rot: -47 },  // g3bp6_up
  { cx: 879, cy: 630, a: 440, b: 240, rot: -48 }   // g3bp6_down
];
const vennSpots = [[223, 525], [446, 254], [830, 254], [1053, 525], [348, 398], [640, 385], [923, 398],
  [480, 558], [794, 558], [637, 701], [397, 734], [879, 734], [541, 818], [733, 818], [637, 909]];
const vennFill = ['#8c8cef', '#fdfba6', '#aef08c', '#f8a2aa', '#dcdc92', '#c8f05a', '#e8b45c',
  '#80e048', '#ecbc30', '#d4a424', '#4fe6c0', '#f9a76e', '#c8723e', '#ee6a52', '#ea4fbe'];
const vennInk = ['#2b2b8c', '#5c5a1e', '#1e6a1e', '#8c1a28', '#5a5a2a', '#3c5a12', '#6a4a1a',
  '#2a5a1a', '#5a4a10', '#5a4010', '#155a50', '#6a3512', '#4a2010', '#6a1a10', '#5a1050'];

const vennTotal = vennCounts.reduce((s, v) => s + v, 0);
const vennPct = vennCounts.map(c => c === 0 ? '0%' : (c / vennTotal * 100).toFixed(1).replace('.', '. ') + '%');

const vennDraw = {
  id: 'vennDraw',
  beforeDatasetsDraw(chart) {
    const { ctx, scales: { x, y } } = chart;
    const W = chart.width, H = chart.height;
    const sh = vennShapes.map(s => ({
      cx: x.getPixelForValue(s.cx), cy: y.getPixelForValue(s.cy),
      rx: Math.abs(x.getPixelForValue(s.a) - x.getPixelForValue(0)),
      ry: Math.abs(y.getPixelForValue(s.b) - y.getPixelForValue(0)),
      rot: s.rot * Math.PI / 180
    }));
    const trace = (e, outside) => {
      ctx.beginPath();
      if (outside) ctx.rect(-10, -10, W + 20, H + 20);
      ctx.ellipse(e.cx, e.cy, e.rx, e.ry, e.rot, 0, Math.PI * 2);
    };
    vennRegions.forEach((code, i) => {
      ctx.save();
      vennKeys.forEach((k, j) => {
        const inside = code.includes(k);
        trace(sh[j], !inside);
        ctx.clip(inside ? 'nonzero' : 'evenodd');
      });
      ctx.fillStyle = vennFill[i];
      ctx.fillRect(0, 0, W, H);
      ctx.restore();
    });
    ctx.save();
    ctx.strokeStyle = '#2a2a2a';
    ctx.lineWidth = 2.5;
    sh.forEach(e => { trace(e, false); ctx.stroke(); });
    ctx.restore();
  },
  afterDatasetsDraw(chart) {
    const { ctx } = chart;
    const pts = chart.getDatasetMeta(0).data;
    ctx.save();
    ctx.textAlign = 'center';
    ctx.textBaseline = 'middle';
    pts.forEach((p, i) => {
      ctx.fillStyle = vennInk[i];
      ctx.font = '46px ' + SERIF;
      ctx.fillText(String(vennCounts[i]), p.x, p.y - 18);
      ctx.font = '31px ' + SERIF;
      ctx.fillText('(' + vennPct[i] + ')', p.x, p.y + 20);
    });
    ctx.restore();
  }
};

new Chart(makeCanvas(0, 1190, 1300, 1030), {
  type: 'scatter',
  data: { datasets: [{ data: toXY(vennSpots), pointRadius: 0 }] },
  options: {
    responsive: false, devicePixelRatio: 1,
    layout: { padding: 0 },
    scales: {
      x: { type: 'linear', min: 0, max: 1300, display: false },
      y: { type: 'linear', min: 0, max: 1030, reverse: true, display: false }
    }
  },
  plugins: [vennDraw]
});

// ---------- zoom connectors ----------
const svgNS = 'http://www.w3.org/2000/svg';
const svg = document.createElementNS(svgNS, 'svg');
svg.setAttribute('width', '3829'); svg.setAttribute('height', '2703');
[[[1402, 927], [1094, 1272], [1405, 1733]], [[1405, 1812], [1126, 2187], [1405, 2590]]].forEach(pl => {
  const p = document.createElementNS(svgNS, 'polyline');
  p.setAttribute('points', pl.map(q => q.join(',')).join(' '));
  p.setAttribute('fill', 'none');
  p.setAttribute('stroke', '#000');
  p.setAttribute('stroke-width', '5');
  p.setAttribute('stroke-dasharray', '16 9');
  svg.appendChild(p);
});
page.appendChild(svg);
</script>
</body>
</html>
